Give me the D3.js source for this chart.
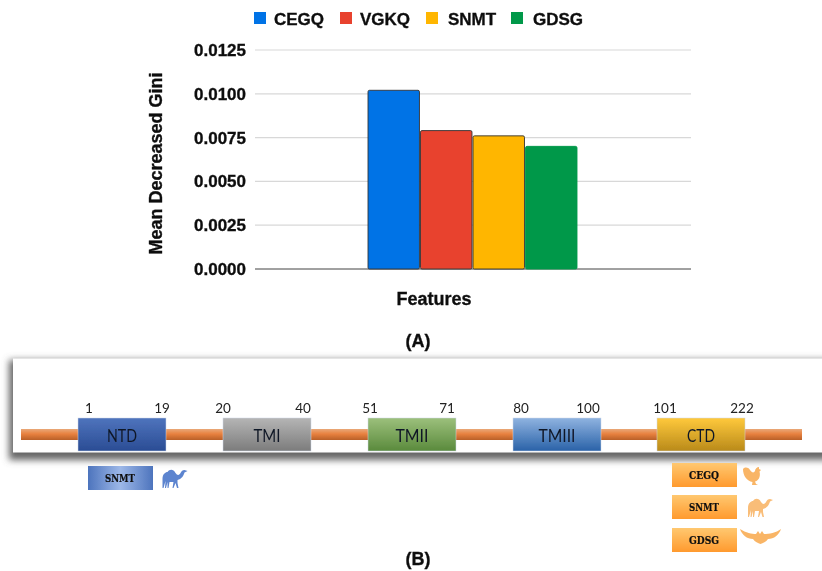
<!DOCTYPE html>
<html><head><meta charset="utf-8">
<script src="https://cdn.jsdelivr.net/npm/d3@7"></script>
<style>html,body{margin:0;padding:0;background:#fff}svg{display:block}</style>
</head><body><div id="c"></div>
<script>
const seriesNames=["CEGQ","VGKQ","SNMT","GDSG"];
const seriesValues=[0.0102,0.0079,0.0076,0.0070];
const seriesColors=["#0073e6","#e8432e","#ffb600","#00984a"];
const yTicks=[0,0.0025,0.005,0.0075,0.01,0.0125];
const domains=["NTD","TMI","TMII","TMIII","CTD"];
const domainStart=["1","20","51","80","101"];
const domainEnd=["19","40","71","100","222"];
const domainTop=["#4f74bd","#b5b5b5","#9cc07c","#8fb3e0","#ffc93c"];
const domainBottom=["#2a4c94","#7c7c7c","#5a8a3c","#2a62a8","#b98a1a"];
const domainLeft=[78,223,368,513,657];
const domainLabelWidth=[30,27,33,37,28];
const startLabelX=[89,223,370,521,665];
const endLabelX=[162,303,447,588,742];
const W=822,H=571;
const svg=d3.select("#c").append("svg").attr("width",W).attr("height",H);
const defs=svg.append("defs");
defs.append("filter").attr("id","soft").attr("x","-5%").attr("y","-5%").attr("width","110%").attr("height","110%")
  .append("feGaussianBlur").attr("stdDeviation",0.4);
defs.append("filter").attr("id","shadow").attr("x","-5%").attr("y","-30%").attr("width","110%").attr("height","160%")
  .append("feGaussianBlur").attr("stdDeviation",3.5);
function grad(id,stops,horizontal){
  const g=defs.append("linearGradient").attr("id",id).attr("x1",0).attr("y1",0)
    .attr("x2",horizontal?1:0).attr("y2",horizontal?0:1);
  stops.forEach(([o,c])=>g.append("stop").attr("offset",o).attr("stop-color",c));
}
domains.forEach((d,i)=>grad("dom"+i,[[0,domainTop[i]],[1,domainBottom[i]]]));
grad("bar",[[0,"#e9a878"],[0.45,"#e8813f"],[1,"#b9602a"]]);
grad("subBlue",[[0,"#4d74bd"],[0.5,"#9db8e8"],[1,"#4d74bd"]],true);
grad("subOrange",[[0,"#ffc870"],[1,"#ff9a2e"]]);

const root=svg.append("g").attr("filter","url(#soft)");
const A="Liberation Sans, Arial, sans-serif";
const heavy=s=>s.attr("font-family",A).attr("font-weight","bold").attr("stroke","#111").attr("stroke-width",0.35).attr("fill","#111");
// ---- Panel A
const y=d3.scaleLinear().domain([0,0.0125]).range([269,50]);
const x=d3.scaleBand().domain(seriesNames).range([368,577]).paddingInner(0.02);
const yAxis=d3.axisLeft(y).tickValues(yTicks).tickFormat(d3.format(".4f")).tickSize(0).tickPadding(9);
const ga=root.append("g").attr("transform","translate(255,0)").call(yAxis);
ga.select(".domain").remove();
ga.selectAll("text").call(heavy).attr("font-size",17);
root.append("g").selectAll("line").data(yTicks).join("line")
  .attr("x1",255).attr("x2",691).attr("y1",d=>y(d)).attr("y2",d=>y(d))
  .attr("stroke",d=>d===0?"#444":"#d8d8d8").attr("stroke-width",d=>d===0?1:1.2);
root.append("g").selectAll("rect").data(seriesNames).join("rect")
  .attr("x",d=>x(d)).attr("width",x.bandwidth())
  .attr("y",(d,i)=>y(seriesValues[i])).attr("height",(d,i)=>y(0)-y(seriesValues[i]))
  .attr("rx",1.5)
  .attr("fill",(d,i)=>seriesColors[i])
  .attr("stroke",(d,i)=>i===3?"#00984a":"#333").attr("stroke-width",0.9);
const legendX=[254,340,426,511];
const legendTextX=[274,360,448,533];
const legend=root.append("g").selectAll("g").data(seriesNames).join("g")
  .attr("transform",(d,i)=>`translate(${legendX[i]},12)`);
legend.append("rect").attr("width",12).attr("height",12).attr("fill",(d,i)=>seriesColors[i]);
legend.append("text").text(d=>d).attr("x",(d,i)=>legendTextX[i]-legendX[i]).attr("y",12.5).call(heavy).attr("font-size",17);
root.append("text").text("Mean Decreased Gini").attr("transform","translate(162,163.5) rotate(-90)")
  .attr("text-anchor","middle").call(heavy).attr("font-size",18);
root.append("text").text("Features").attr("x",434).attr("y",305).attr("text-anchor","middle").call(heavy).attr("font-size",18);
root.append("text").text("(A)").attr("x",418).attr("y",347).attr("text-anchor","middle").call(heavy).attr("font-size",18);
// ---- Panel B
const B="Lato, Carlito, sans-serif";
root.append("rect").attr("x",9).attr("y",360).attr("width",830).attr("height",100)
  .attr("fill","#666").attr("filter","url(#shadow)");
root.append("rect").attr("x",13).attr("y",358.5).attr("width",815).attr("height",94).attr("fill","#fff");
root.append("rect").attr("x",21).attr("y",429).attr("width",781).attr("height",11).attr("fill","url(#bar)");
const dw=88;
const dg=root.append("g").selectAll("g").data(domains).join("g").attr("transform",(d,i)=>`translate(${domainLeft[i]},418)`);
dg.append("rect").attr("width",dw).attr("height",33).attr("fill",(d,i)=>`url(#dom${i})`).attr("stroke","#cfd8e8").attr("stroke-width",0.5);
dg.append("text").text(d=>d).attr("x",dw/2).attr("y",24).attr("text-anchor","middle")
  .attr("textLength",(d,i)=>domainLabelWidth[i]).attr("lengthAdjust","spacingAndGlyphs")
  .attr("font-family",B).attr("font-size",17).attr("fill","#111827");
root.append("g").selectAll("text").data(domainStart.concat(domainEnd)).join("text").text(d=>d)
  .attr("x",(d,i)=>startLabelX.concat(endLabelX)[i]).attr("y",413).attr("text-anchor","middle")
  .attr("font-family",B).attr("font-size",13.5).attr("fill","#222");
// sub boxes
const subNames=["SNMT","CEGQ","SNMT","GDSG"];
const subX=[88,672,672,672];
const subY=[466,463,495,528];
const subFill=["url(#subBlue)","url(#subOrange)","url(#subOrange)","url(#subOrange)"];
const sg=root.append("g").selectAll("g").data(subNames).join("g").attr("transform",(d,i)=>`translate(${subX[i]},${subY[i]})`);
sg.append("rect").attr("width",65).attr("height",24).attr("fill",(d,i)=>subFill[i]);
sg.append("text").text(d=>d).attr("x",32).attr("y",16).attr("text-anchor","middle")
  .attr("textLength",30).attr("lengthAdjust","spacingAndGlyphs")
  .attr("font-family","DejaVu Serif, serif").attr("font-weight","bold").attr("font-size",10.5)
  .attr("fill","#111").attr("stroke","#111").attr("stroke-width",0.2);
// icons
const camel="M0 10 C0 5 3 3 5 3 C7 0 11 0 13 4 C15 7 17 6 18 4 C19 2 20 1 22 1 L25 2 L22 3.5 C21 7 19 10 15 11 L15 14 L16 19 L14.5 19 L13 14 L11 19 L10 19 L11 13 L7 13 L6 19 L5 19 L5 13 L3.5 19 L2.5 19 L3 12 L1 19 L0 19 Z";
const rooster="M0 2 C2 0 5 0 7 3 C9 6 11 6 12 4 C12 2 14 0 16 0 L16 2 L18 3 L16.5 4.5 C18 10 15 14 12 14.5 L13 17 L15 18 L9 18 L9.5 15 C4 14 0 9 0 2 Z";
const bat="M0 0 C6 4 12 5 16 5 L18 2 L20 5 L22 2 L24 5 C29 5 36 4 41 0 C39 6 34 10 28 10 C26 13 23 14 20.5 15 C18 14 15 13 13 10 C7 10 2 6 0 0 Z";
const icons=[[camel,"#5c84cf",162.5,469],[rooster,"#f9b566",743,467],[camel,"#f9bd78",748,498],[bat,"#f9b566",740,529]];
root.append("g").selectAll("path").data(icons).join("path")
  .attr("d",d=>d[0]).attr("fill",d=>d[1]).attr("transform",d=>`translate(${d[2]},${d[3]})`);
root.append("text").text("(B)").attr("x",418).attr("y",565).attr("text-anchor","middle").call(heavy).attr("font-size",18);
</script></body></html>
